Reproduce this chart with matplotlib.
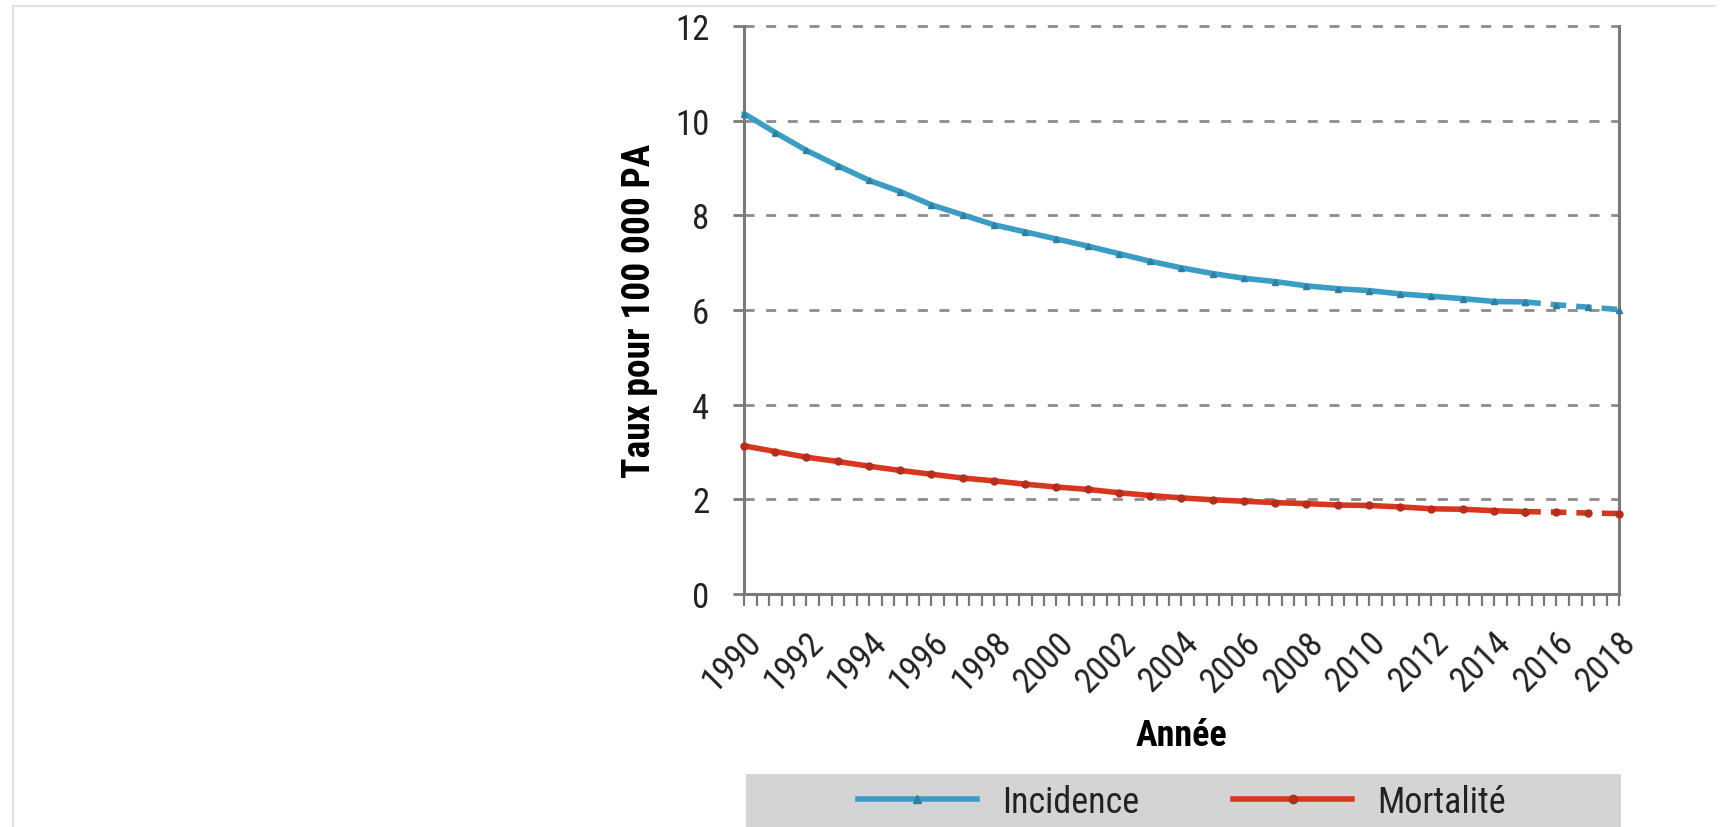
import numpy as np
import matplotlib
matplotlib.use("Agg")
import matplotlib.pyplot as plt
from matplotlib.lines import Line2D
from matplotlib.patches import Rectangle
from matplotlib import font_manager

# pick the narrowest sans family that is installed
names = {f.name for f in font_manager.fontManager.ttflist}
condensed = [f for f in font_manager.fontManager.ttflist
             if 'ondensed' in f.fname or 'Narrow' in f.fname]
fam = None
for cand in ['Liberation Sans Narrow', 'Arial Narrow', 'Roboto Condensed',
             'Open Sans Condensed', 'Noto Sans Condensed']:
    if cand in names:
        fam = cand
        break
if fam is None and condensed:
    fam = condensed[0].name
    plt.rcParams['font.stretch'] = 'condensed'
if fam is None:
    fam = 'Liberation Sans' if 'Liberation Sans' in names else 'DejaVu Sans'
plt.rcParams['font.family'] = [fam, 'DejaVu Sans']
plt.rcParams['text.color'] = '#222222'

# data
years = np.arange(1990, 2019)
incidence = [10.15, 9.75, 9.37, 9.05, 8.74, 8.50, 8.22, 8.01, 7.80, 7.65,
             7.50, 7.35, 7.19, 7.03, 6.89, 6.77, 6.67, 6.60, 6.51, 6.45,
             6.41, 6.34, 6.29, 6.24, 6.18, 6.17, 6.11, 6.06, 6.01]
mortalite = [3.13, 3.01, 2.89, 2.80, 2.70, 2.61, 2.53, 2.45, 2.39, 2.32,
             2.26, 2.21, 2.14, 2.08, 2.03, 1.99, 1.96, 1.93, 1.91, 1.88,
             1.87, 1.84, 1.80, 1.79, 1.76, 1.74, 1.73, 1.71, 1.70]
last_obs = 2015  # after this the curves are projections (dashed)
y_ticks = [0, 2, 4, 6, 8, 10, 12]
x_labels = list(range(1990, 2019, 2))

blue = '#3a9dc6'
blue_mk = '#2f7fa3'
red = '#d8371f'
red_mk = '#b52d1c'
grey = '#7a7a7a'

W, H = 1721, 828
fig = plt.figure(figsize=(W / 100, H / 100), dpi=100)
ax = fig.add_axes([744 / W, 1 - 595 / H, 875 / W, 568 / H])

obs = years <= last_obs
proj = years >= last_obs
inc = np.array(incidence)
mor = np.array(mortalite)

lw = 4
ax.plot(years[obs], inc[obs], color=blue, lw=lw, marker='^', ms=5,
        mfc=blue_mk, mec=blue_mk, solid_capstyle='round', zorder=3, clip_on=False)
ax.plot(years[proj], inc[proj], color=blue, lw=lw, ls=(0, (2.8, 1.8)), marker='^', ms=5,
        mfc=blue_mk, mec=blue_mk, zorder=3, clip_on=False)
ax.plot(years[obs], mor[obs], color=red, lw=lw, marker='o', ms=5,
        mfc=red_mk, mec=red_mk, solid_capstyle='round', zorder=3, clip_on=False)
ax.plot(years[proj], mor[proj], color=red, lw=lw, ls=(0, (2.8, 1.8)), marker='o', ms=5,
        mfc=red_mk, mec=red_mk, zorder=3, clip_on=False)

ax.set_xlim(1990, 2018)
ax.set_ylim(0, 12)
ax.set_yticks(y_ticks)
ax.set_xticks(x_labels)
ax.set_xticks(np.arange(1990, 2018.01, 0.4), minor=True)

ax.grid(axis='y', color='#8c8c8c', lw=2, ls=(0, (3.6, 4.2)))
for gl in ax.get_ygridlines():
    gl.set_clip_on(False)
ax.set_axisbelow(True)

for s in ['left', 'right', 'bottom']:
    ax.spines[s].set_color(grey)
    ax.spines[s].set_linewidth(2.2)
ax.spines['top'].set_visible(False)

ax.tick_params(axis='y', length=8, width=2, color=grey, pad=17, labelsize=25,
               labelcolor='#222222')
ax.tick_params(axis='x', which='both', length=8.6, width=1.6, color=grey, pad=14,
               labelsize=25, labelcolor='#222222')
for lab in ax.get_xticklabels():
    lab.set_rotation(45)
    lab.set_ha('right')
    lab.set_va('top')
    lab.set_rotation_mode('anchor')

ax.set_ylabel('Taux pour 100 000 PA', fontsize=27, fontweight='bold')
ax.yaxis.set_label_coords(-0.0983, 0.5)
ax.set_xlabel('Année', fontsize=26, fontweight='bold')
ax.xaxis.set_label_coords(0.5, -0.2165)

# grey legend band under the chart
fig.add_artist(Rectangle((746 / W, 0), 875 / W, 1 - 775 / H, transform=fig.transFigure,
                         facecolor='#d4d4d4', edgecolor='none', zorder=0))
handles = [Line2D([], [], color=blue, lw=lw, marker='^', ms=6, mfc=blue_mk, mec=blue_mk),
           Line2D([], [], color=red, lw=lw, marker='o', ms=6, mfc=red_mk, mec=red_mk)]
fig.legend(handles, ['Incidence', 'Mortalité'], loc='center',
           bbox_to_anchor=(1182 / W, 1 - 803 / H), ncol=2, frameon=False, fontsize=26,
           handlelength=3.3, handletextpad=0.7, columnspacing=2.6, borderpad=0)

# light page frame (top and left)
fig.add_artist(Line2D([13 / W, 1715 / W], [1 - 7 / H, 1 - 7 / H], color='#e2e2e2', lw=1.5,
                      transform=fig.transFigure))
fig.add_artist(Line2D([13 / W, 13 / W], [0, 1 - 7 / H], color='#e2e2e2', lw=1.5,
                      transform=fig.transFigure))

fig.savefig('out.png', dpi=100)
